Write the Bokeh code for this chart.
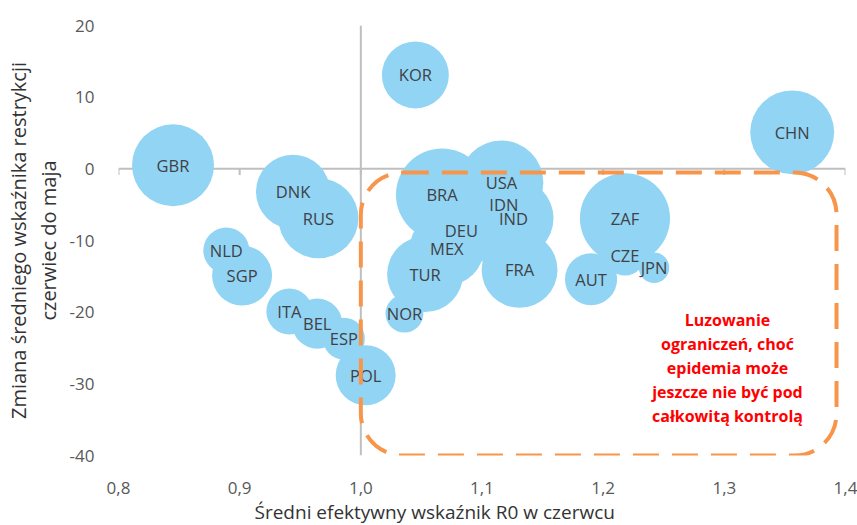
import math
from bokeh.plotting import figure
from bokeh.models import (ColumnDataSource, FixedTicker, Span, BoxAnnotation, Label, Title)
from bokeh.core.properties import value
from bokeh.embed import file_html
from bokeh.resources import INLINE

# ---- data ----
countries = ["GBR", "KOR", "CHN", "DNK", "RUS", "NLD", "SGP", "ITA", "BEL", "ESP",
             "POL", "NOR", "BRA", "USA", "IDN", "IND", "DEU", "MEX", "TUR", "FRA",
             "ZAF", "CZE", "JPN", "AUT"]
r0_june = [0.845, 1.045, 1.356, 0.944, 0.965, 0.889, 0.902, 0.941, 0.964, 0.986,
           1.004, 1.036, 1.067, 1.116, 1.118, 1.126, 1.083, 1.071, 1.053, 1.131,
           1.218, 1.218, 1.242, 1.190]
restr_change = [0.5, 13.1, 5.1, -3.2, -6.9, -11.4, -14.9, -19.9, -21.6, -23.7,
                -28.8, -20.2, -3.6, -1.9, -5.0, -6.9, -8.6, -11.1, -14.7, -14.1,
                -6.9, -12.1, -13.8, -15.4]
bubble_value = [16.8, 11.2, 17.6, 13.7, 16.0, 5.3, 9.0, 5.3, 6.3, 4.4,
                9.0, 3.6, 21.2, 17.6, 14.4, 16.0, 13.7, 13.7, 14.4, 14.4,
                20.3, 4.0, 2.3, 6.8]

x_ticks = [0.8, 0.9, 1.0, 1.1, 1.2, 1.3, 1.4]
x_tick_labels = ["0,8", "0,9", "1,0", "1,1", "1,2", "1,3", "1,4"]
y_ticks = [-40, -30, -20, -10, 0, 10, 20]
y_tick_labels = ["-40", "-30", "-20", "-10", "0", "10", "20"]

x_title = "Średni efektywny wskaźnik R0 w czerwcu"
y_title_1 = "Zmiana średniego wskaźnika restrykcji"
y_title_2 = "czerwiec do maja"
note = "Luzowanie\nograniczeń, choć\nepidemia może\njeszcze nie być pod\ncałkowitą kontrolą"

# ---- styling ----
FONT = "Open Sans"
BUBBLE = "#92d4f4"
ORANGE = "#f7964a"
GRAY_LINE = "#bfbfbf"
TITLE_COLOR = "#333333"

sizes = [20 * math.sqrt(v) for v in bubble_value]
src = ColumnDataSource(dict(x=r0_june, y=restr_change, name=countries, size=sizes))

p = figure(width=857, height=525, x_range=(0.8, 1.4), y_range=(-40, 20),
           output_backend="svg", toolbar_location=None,
           min_border_left=118, min_border_right=12, min_border_top=25, min_border_bottom=70)
p.outline_line_color = None
p.grid.visible = False
p.background_fill_color = "white"
p.border_fill_color = "white"

# cross axes lines
p.add_layout(Span(location=0, dimension="width", line_color=GRAY_LINE, line_width=2, level="underlay"))
p.add_layout(Span(location=1.0, dimension="height", line_color=GRAY_LINE, line_width=2, level="underlay"))
tick_len = 0.85
p.segment(x0=x_ticks, y0=[0] * len(x_ticks), x1=x_ticks, y1=[-tick_len] * len(x_ticks),
          line_color=GRAY_LINE, line_width=2, level="underlay")

# bubbles
p.scatter("x", "y", size="size", source=src, fill_color=BUBBLE, line_color=None)
p.text("x", "y", text="name", source=src, text_align="center", text_baseline="middle",
       text_font=value(FONT), text_font_size="16.5px", text_color="#3f4245")

# dashed rounded region
p.add_layout(BoxAnnotation(left=1.0, right=1.3926, top=-0.52, bottom=-40,
                           border_radius=42, fill_alpha=0, line_color=ORANGE, line_alpha=1.0,
                           line_width=4, line_dash="26 13"))

p.add_layout(Label(x=1.3026, y=-27.8, text=note, text_align="center", text_baseline="middle",
                   text_font=FONT, text_font_size="16px", text_font_style="bold",
                   text_color="#ff0000", text_line_height=1.1))

# axes
for ax in (p.xaxis[0], p.yaxis[0]):
    ax.axis_line_color = None
    ax.major_tick_line_color = None
    ax.minor_tick_line_color = None
    ax.major_label_text_font = FONT
    ax.major_label_text_font_size = "17px"
    ax.major_label_text_color = "#595959"
p.xaxis.ticker = FixedTicker(ticks=x_ticks)
p.xaxis.major_label_overrides = {t: l for t, l in zip(x_ticks, x_tick_labels)}
p.xaxis.major_label_standoff = 20
p.yaxis.ticker = FixedTicker(ticks=y_ticks)
p.yaxis.major_label_standoff = 18
p.yaxis.major_label_overrides = {t: l for t, l in zip(y_ticks, y_tick_labels)}

# axis titles
p.yaxis.axis_label = y_title_2
p.yaxis.axis_label_standoff = 5
p.yaxis.axis_label_text_font = FONT
p.yaxis.axis_label_text_font_size = "20px"
p.yaxis.axis_label_text_font_style = "normal"
p.yaxis.axis_label_text_color = TITLE_COLOR

p.add_layout(Title(text=x_title, align="left", offset=136, standoff=0,
                   text_font=FONT, text_font_size="19px", text_font_style="normal",
                   text_color=TITLE_COLOR), "below")
p.add_layout(Title(text=y_title_1, align="center", standoff=0, text_line_height=0.8,
                   text_font=FONT, text_font_size="20px", text_font_style="normal",
                   text_color=TITLE_COLOR), "left")

open("out.html", "w").write(file_html(p, INLINE))
